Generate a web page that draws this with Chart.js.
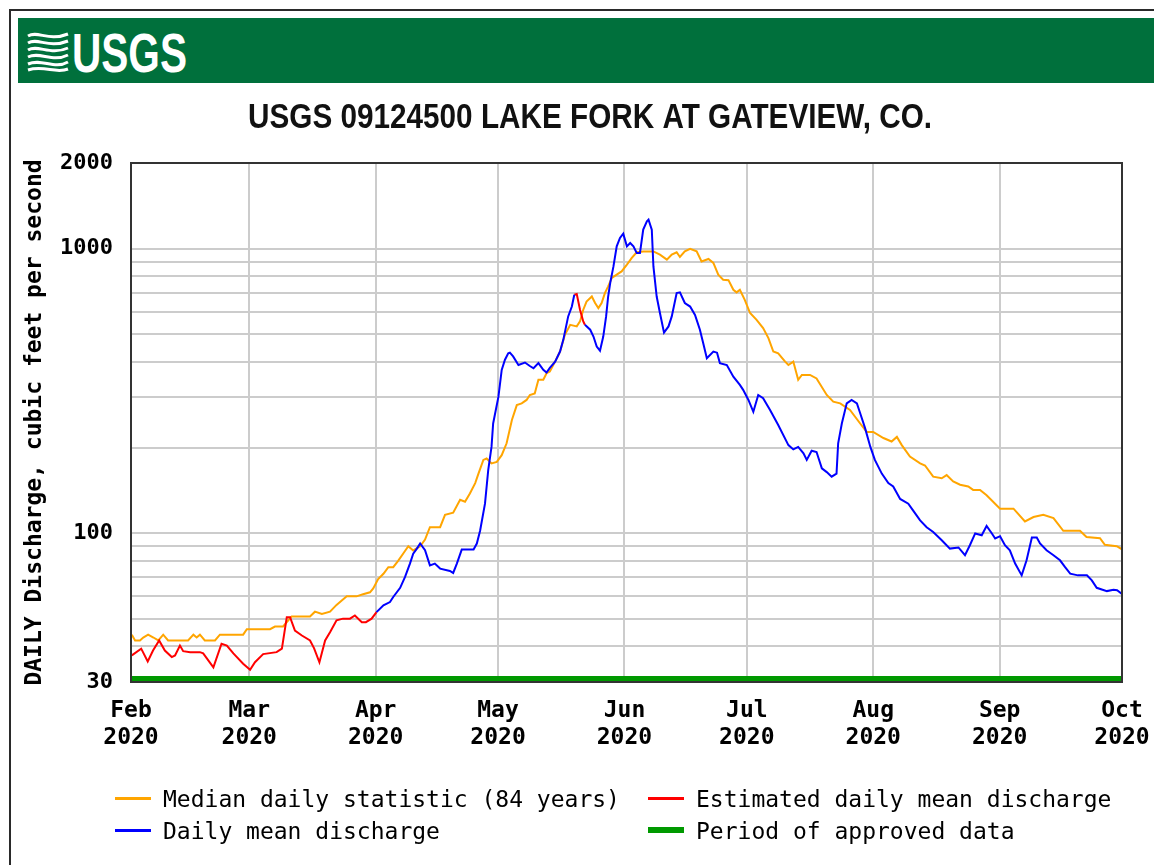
<!DOCTYPE html>
<html>
<head>
<meta charset="utf-8">
<title>USGS 09124500 LAKE FORK AT GATEVIEW, CO.</title>
<script src="https://cdn.jsdelivr.net/npm/chart.js@4.4.1/dist/chart.umd.min.js"></script>
<style>
    body { margin: 0; background: #fff; }
    #lienzo { position: relative; width: 1154px; height: 865px; overflow: hidden; background: #fff; }
    #marco { position: absolute; left: 9px; top: 9px; width: 1200px; height: 900px; border-left: 2px solid #2a2a2a; border-top: 2px solid #2a2a2a; }
    #banda { position: absolute; left: 18px; top: 18px; width: 1140px; height: 65px; background: #00703c; }
    #banda svg { position: absolute; left: 0; top: 0; }
    #grafico { position: absolute; left: 0; top: 0; }
    .leyenda-item { position: absolute; height: 0; font: 23px "DejaVu Sans Mono", monospace; color: #000; white-space: pre; }
    .leyenda-linea { position: absolute; left: 0; width: 36px; }
    .leyenda-texto { position: absolute; left: 48px; top: -13px; line-height: 28px; }
</style>
</head>
<body>
<div id="lienzo">
    <div id="marco"></div>
    <div id="banda">
        <svg width="200" height="65" viewBox="0 0 200 65">
            <g fill="none" stroke="#fff" stroke-width="3">
                <path d="M10,18 C20,12 30,24 50,16" />
                <path d="M10,25 C20,19 30,31 50,23" />
                <path d="M10,32 C20,26 32,38 50,30" />
                <path d="M10,39 C22,33 34,45 50,37" />
                <path d="M10,46 C24,40 36,52 50,44" />
                <path d="M10,52 C26,47 38,56 50,51" />
            </g>
            <text x="54" y="54" fill="#fff" font-family="'Liberation Sans', Arial, sans-serif" font-weight="bold" font-size="56" textLength="115" lengthAdjust="spacingAndGlyphs">USGS</text>
        </svg>
    </div>
    <canvas id="grafico" width="1154" height="865"></canvas>
    <div id="leyenda"></div>
</div>
<script>
const tituloGrafico = "USGS 09124500 LAKE FORK AT GATEVIEW, CO.";

// ejes: dias desde el 1 de febrero de 2020
const diasInicioMes = [0, 29, 60, 90, 121, 151, 182, 213, 243];
const etiquetasMes = [
    ["Feb", "2020"], ["Mar", "2020"], ["Apr", "2020"], ["May", "2020"], ["Jun", "2020"],
    ["Jul", "2020"], ["Aug", "2020"], ["Sep", "2020"], ["Oct", "2020"],
];
const lineasY = [30, 40, 50, 60, 70, 80, 90, 100, 200, 300, 400, 500, 600, 700, 800, 900, 1000, 2000];
const etiquetasY = [30, 100, 1000, 2000];

// [dia, pies cubicos por segundo]
const medianaDiaria = [
    [0.2, 44], [1, 42], [2.2, 42], [3, 43], [4.2, 44], [5.5, 43], [6.7, 42], [7.9, 44], [9.1, 42], [14, 42],
    [15.3, 44], [16.1, 43], [16.9, 44], [18.1, 42], [20.6, 42], [21.8, 44], [27.5, 44], [28.4, 46], [34.1, 46], [35.3, 47],
    [37.3, 47], [39.4, 51], [43.9, 51], [45.1, 53], [46.8, 52], [48.8, 53], [50.4, 56], [52.9, 60], [55.3, 60], [56.9, 61],
    [58.6, 62], [59.4, 64], [60.6, 69], [61.9, 72], [63.1, 76], [64.3, 76], [65.5, 80], [66.8, 85], [68, 90], [69.2, 87],
    [70.9, 90], [72.1, 95], [73.3, 105], [75.8, 105], [77, 116], [79, 118], [80.7, 131], [81.9, 129], [83.1, 138], [84.4, 150],
    [85.2, 162], [86.4, 181], [87.2, 183], [88.4, 176], [89.7, 178], [90.9, 188], [92.1, 207], [93.4, 250], [94.6, 282], [95.8, 286],
    [97, 294], [97.8, 306], [99, 310], [99.9, 346], [101.1, 346], [101.9, 365], [102.7, 370], [104, 401], [105.2, 435], [106.4, 498],
    [107.7, 540], [109.3, 533], [110.1, 555], [110.9, 610], [111.7, 652], [113, 679], [113.8, 644], [114.6, 618], [115.4, 644], [116.2, 698],
    [117, 737], [117.9, 789], [119.1, 810], [120.3, 832], [121.6, 879], [122.8, 928], [124, 971], [125.6, 978], [128.1, 978], [129.7, 953],
    [131.4, 915], [132.6, 953], [133.8, 971], [134.6, 935], [135.8, 978], [137.1, 998], [138.7, 978], [139.9, 902], [141.6, 920], [142.8, 891],
    [144, 810], [145.2, 778], [146.5, 775], [147.7, 717], [148.5, 702], [149.3, 717], [150.5, 661], [151.8, 594], [153.4, 562], [155, 526],
    [156.3, 485], [157.5, 435], [158.7, 429], [160.4, 401], [161.2, 390], [162.4, 401], [163.6, 346], [164.5, 360], [166.5, 360], [168.1, 350],
    [170.6, 306], [172.2, 290], [173.9, 286], [176.3, 271], [178.8, 243], [180.4, 227], [182, 227], [184.5, 216], [186.5, 210], [187.8, 218],
    [189, 204], [191, 186], [193.5, 176], [194.7, 173], [196.7, 158], [198.8, 156], [200, 160], [201.6, 152], [203.3, 148], [205.3, 146],
    [206.5, 142], [208.2, 142], [209.8, 136], [213.1, 122], [216.4, 122], [219.2, 110], [221.3, 114], [223.7, 116], [226.2, 113], [228.6, 102],
    [232.7, 102], [234.3, 97], [237.6, 96], [238.8, 91], [241.7, 90], [242.9, 88],
];

const estimadoFebMar = [
    [0.2, 37.2], [2.5, 39.3], [4.1, 35.4], [5.4, 38.7], [6.9, 42], [8.3, 38.7], [10, 36.7], [10.8, 37.2], [12, 40.3], [12.8, 38.5],
    [14.5, 38.2], [16.9, 38.2], [17.7, 37.8], [20.2, 33.8], [22.2, 40.9], [23.5, 40.3], [25.1, 37.8], [27.5, 34.8], [29.2, 33.1], [30.4, 35.2],
    [32.4, 37.6], [35.7, 38.2], [37, 39.3], [38.2, 50.7], [39, 50.7], [40.2, 45.5], [41.9, 43.7], [43.9, 42], [44.9, 39.4], [46.2, 35.2],
    [47.6, 42], [48.8, 44.9], [50.4, 49.4], [52, 50.1], [53.7, 50.1], [54.9, 51.4], [56.6, 48.7], [57.6, 48.7], [59, 50.1], [60.2, 52.8],
];
const estimadoMayo = [[108.7, 689], [109.3, 693], [110.1, 610], [110.9, 555], [111.3, 540]];

const mediaAbrMay = [
    [60.2, 52.8], [61.9, 55.8], [63.5, 57.3], [64.3, 59.7], [66, 64.3], [67.2, 70.2], [68.4, 78.2], [69.2, 84.8], [70.1, 88.3], [70.9, 92],
    [72.1, 87.1], [73.3, 77.1], [74.5, 78.2], [75.8, 75.1], [78.2, 73.7], [79, 72.5], [79.9, 78.2], [81.1, 87.6], [84, 87.6], [84.8, 92],
    [85.6, 102], [86.8, 127], [87.6, 167], [88.4, 201], [88.8, 243], [90.1, 302], [90.9, 375], [91.7, 407], [92.5, 429], [92.9, 431],
    [93.7, 418], [95, 390], [96.6, 398], [97.8, 387], [98.7, 380], [99.9, 396], [101.1, 375], [101.9, 367], [102.7, 381], [104, 401],
    [105.2, 435], [106, 478], [107.2, 578], [108.1, 626], [108.7, 689],
];
const mediaMaySep = [
    [111.3, 540], [112.6, 519], [113.4, 491], [114.2, 453], [115, 438], [115.8, 491], [116.5, 578], [117, 679], [117.5, 757], [118.3, 866],
    [119.1, 1019], [119.9, 1091], [120.7, 1129], [121.6, 1019], [122.4, 1047], [123.2, 1019], [124, 966], [124.8, 966], [125.6, 1167], [126.5, 1248],
    [126.9, 1265], [127.7, 1167], [128.1, 866], [128.9, 679], [129.7, 594], [130.7, 507], [131.8, 533], [132.6, 578], [133.8, 698], [134.6, 702],
    [135.8, 644], [137.1, 626], [138.3, 585], [139.5, 519], [140.3, 466], [141.2, 412], [142.8, 435], [143.7, 431], [144.4, 396], [146.1, 390],
    [147.7, 355], [149.3, 332], [150.1, 319], [151.4, 294], [152.6, 267], [153.8, 306], [155, 298], [156.7, 271], [158.7, 240], [161.2, 204],
    [162.4, 197], [163.6, 201], [164.9, 191], [165.7, 181], [166.9, 195], [168.1, 193], [169.4, 169], [170.6, 164], [171.8, 158], [173, 162],
    [173.4, 207], [174.3, 243], [175.5, 286], [176.7, 294], [178, 286], [178.8, 264], [180, 234], [181.3, 201], [182.4, 181], [184.1, 162],
    [185.7, 150], [186.9, 146], [188.6, 132], [190.6, 127], [191.8, 120], [193.5, 111], [195.1, 105], [196.7, 101], [198.8, 94.5], [200.8, 88.3],
    [202.9, 89.1], [204.5, 83.7], [205.7, 90.7], [207, 99.8], [208.6, 98.4], [209.8, 106], [211.1, 99.8], [211.9, 95.8], [213.1, 97.6], [214.3, 90.7],
    [215.5, 87.1], [216.8, 78.2], [218.4, 71.1], [219.6, 80.3], [220.9, 96.6], [222.1, 96.6], [222.9, 92], [224.5, 87.1], [226.2, 83.7], [227.8, 80.3],
    [229, 76.1], [230.3, 72.1], [232.2, 71.1], [234.4, 71.1], [235.6, 68.3], [236.8, 64.3], [239.3, 62.6], [240.9, 63.3], [241.8, 63], [242.9, 61.3],
];

const periodoAprobado = [[0, 30], [243, 30]];

const ordenLeyenda = [
    "Median daily statistic (84 years)",
    "Estimated daily mean discharge",
    "Daily mean discharge",
    "Period of approved data",
];
const posicionesLeyenda = [
    { x: 115, y: 798 },
    { x: 648, y: 798 },
    { x: 115, y: 830 },
    { x: 648, y: 830 },
];

const fuenteMono = "'DejaVu Sans Mono', monospace";
const aPuntos = (pares) => pares.map(([x, y]) => ({ x, y }));

// marco oscuro alrededor del area del grafico
const marcoGrafico = {
    id: "marcoGrafico",
    afterDatasetsDraw(chart) {
        const { ctx, chartArea } = chart;
        ctx.save();
        ctx.strokeStyle = "#333";
        ctx.lineWidth = 2;
        ctx.strokeRect(chartArea.left, chartArea.top, chartArea.right - chartArea.left, chartArea.bottom - chartArea.top);
        ctx.restore();
    },
};

// titulo en letra estrecha (Arial Narrow no esta instalada)
const tituloEstrecho = {
    id: "tituloEstrecho",
    afterDraw(chart) {
        const { ctx } = chart;
        ctx.save();
        ctx.font = "bold 35px 'Liberation Sans', Arial, sans-serif";
        ctx.fillStyle = "#111";
        ctx.textAlign = "center";
        ctx.textBaseline = "alphabetic";
        const ancho = ctx.measureText(tituloGrafico).width;
        ctx.translate(590, 128);
        ctx.scale(684 / ancho, 1);
        ctx.fillText(tituloGrafico, 0, 0);
        ctx.restore();
    },
};

const ctx = document.getElementById("grafico").getContext("2d");
const grafico = new Chart(ctx, {
    type: "line",
    data: {
        datasets: [
            {
                label: "Daily mean discharge",
                data: [...aPuntos(mediaAbrMay), { x: 110, y: null }, ...aPuntos(mediaMaySep)],
                borderColor: "#0000ff",
                borderWidth: 2,
            },
            {
                label: "Estimated daily mean discharge",
                data: [...aPuntos(estimadoFebMar), { x: 85, y: null }, ...aPuntos(estimadoMayo)],
                borderColor: "#ff0000",
                borderWidth: 2,
            },
            {
                label: "Median daily statistic (84 years)",
                data: aPuntos(medianaDiaria),
                borderColor: "#ffa500",
                borderWidth: 2,
            },
            {
                label: "Period of approved data",
                data: aPuntos(periodoAprobado),
                borderColor: "#009900",
                borderWidth: 12,
                clip: 0,
            },
        ],
    },
    options: {
        responsive: false,
        animation: false,
        spanGaps: false,
        elements: { point: { radius: 0 }, line: { tension: 0 } },
        layout: { padding: { left: 20, right: 0, top: 163, bottom: 113 } },
        plugins: {
            legend: { display: false },
            tooltip: { enabled: false },
            title: { display: false },
        },
        scales: {
            x: {
                type: "linear",
                min: 0,
                max: 243,
                afterBuildTicks: (eje) => {
                    eje.ticks = diasInicioMes.map((v) => ({ value: v }));
                },
                afterFit: (eje) => {
                    eje.height = 70;
                    eje.paddingLeft = 0;
                    eje.paddingRight = 32;
                },
                ticks: {
                    autoSkip: false,
                    maxRotation: 0,
                    padding: 16,
                    color: "#000",
                    font: { family: fuenteMono, size: 23, weight: "bold", lineHeight: 1.17 },
                    callback: (valor, i) => etiquetasMes[i],
                },
                grid: { color: "#cccccc", lineWidth: 2, drawTicks: false },
                border: { color: "#333", width: 2 },
            },
            y: {
                type: "logarithmic",
                min: 30,
                max: 2000,
                afterBuildTicks: (eje) => {
                    eje.ticks = lineasY.map((v) => ({ value: v }));
                },
                afterFit: (eje) => {
                    eje.width = 111;
                },
                ticks: {
                    autoSkip: false,
                    padding: 18,
                    color: "#000",
                    font: { family: fuenteMono, size: 22, weight: "bold" },
                    callback: (valor) => (etiquetasY.includes(valor) ? String(valor) : ""),
                },
                grid: { color: "#cccccc", lineWidth: 2, drawTicks: false },
                border: { color: "#333", width: 2 },
                title: {
                    display: true,
                    text: "DAILY Discharge, cubic feet per second",
                    color: "#000",
                    font: { family: fuenteMono, size: 23, weight: "bold", lineHeight: 1.2 },
                    padding: { top: 1, bottom: 0 },
                },
            },
        },
    },
    plugins: [marcoGrafico, tituloEstrecho],
});

// leyenda en html, dos columnas como el original
const leyenda = document.getElementById("leyenda");
ordenLeyenda.forEach((etiqueta, i) => {
    const dataset = grafico.data.datasets.find((d) => d.label === etiqueta);
    const grosor = etiqueta === "Period of approved data" ? 6 : 3;
    const item = document.createElement("div");
    item.className = "leyenda-item";
    item.style.left = posicionesLeyenda[i].x + "px";
    item.style.top = posicionesLeyenda[i].y + "px";
    item.innerHTML = `<div class="leyenda-linea" style="top:${-grosor / 2}px;height:${grosor}px;background:${dataset.borderColor}"></div>` +
        `<div class="leyenda-texto">${etiqueta}</div>`;
    leyenda.appendChild(item);
});
</script>
</body>
</html>
